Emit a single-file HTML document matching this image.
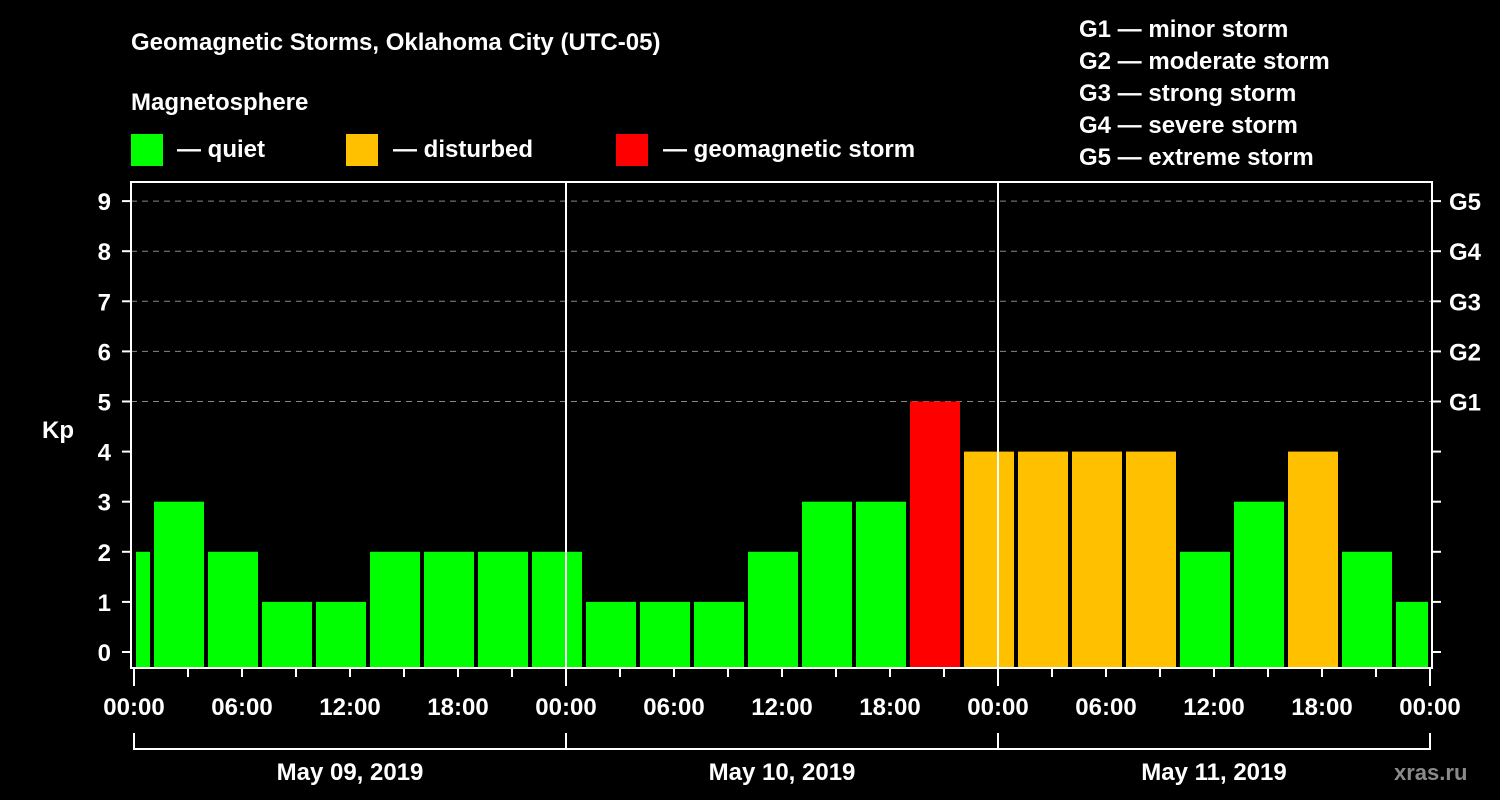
<!DOCTYPE html>
<html><head><meta charset="utf-8"><style>
html,body{margin:0;padding:0;background:#000;}
svg{display:block;}
text{font-family:"Liberation Sans",Arial,sans-serif;font-weight:bold;fill:#fff;}
</style></head><body>
<svg id="chart" width="1500" height="800" viewBox="0 0 1500 800" xmlns="http://www.w3.org/2000/svg">
<rect width="1500" height="800" fill="#000"/>
<text x="131" y="50" font-size="24">Geomagnetic Storms, Oklahoma City (UTC-05)</text>
<text x="131" y="110" font-size="24">Magnetosphere</text>
<g><rect x="131" y="134" width="32" height="32" fill="#00ff00"/><text x="177" y="157" font-size="24">— quiet</text></g>
<g><rect x="346" y="134" width="32" height="32" fill="#ffc000"/><text x="393" y="157" font-size="24">— disturbed</text></g>
<g><rect x="616" y="134" width="32" height="32" fill="#ff0000"/><text x="663" y="157" font-size="24">— geomagnetic storm</text></g>
<g font-size="24">
<text x="1079" y="37">G1 — minor storm</text>
<text x="1079" y="69">G2 — moderate storm</text>
<text x="1079" y="101">G3 — strong storm</text>
<text x="1079" y="133">G4 — severe storm</text>
<text x="1079" y="165">G5 — extreme storm</text>
</g>
<text x="42" y="438" font-size="24">Kp</text>
<g id="grid"></g><g id="bars"></g><g id="axes"></g>
<text x="1394" y="780" font-size="22" fill="#888" style="fill:#8a8a8a">xras.ru</text>
</svg>
<script>
const kpValues=[2,3,2,1,1,2,2,2,2,1,1,1,2,3,3,5,4,4,4,4,2,3,4,2,1];
const startHours=[-2,1,4,7,10,13,16,19,22,25,28,31,34,37,40,43,46,49,52,55,58,61,64,67,70];
const kpTicks=[0,1,2,3,4,5,6,7,8,9];
const gLabels=["G1","G2","G3","G4","G5"];
const timeLabels=["00:00","06:00","12:00","18:00","00:00","06:00","12:00","18:00","00:00","06:00","12:00","18:00","00:00"];
const dayLabels=["May 09, 2019","May 10, 2019","May 11, 2019"];
const NS="http://www.w3.org/2000/svg";
const x=h=>134+h*18, y=v=>652-v*50.1;
const L=131,R=1432,T=182,B=668;
function mk(p,tag,a){const e=document.createElementNS(NS,tag);for(const k in a)e.setAttribute(k,a[k]);p.appendChild(e);return e;}
const grid=document.getElementById('grid'),bars=document.getElementById('bars'),axes=document.getElementById('axes');
kpTicks.forEach(v=>{
 if(v>=5){const g=mk(grid,'line',{x1:L,x2:R,y1:y(v),y2:y(v),stroke:'#888','stroke-dasharray':'6,5','stroke-width':1});
 
 }
 const t=mk(axes,'line',{x1:L-9,x2:L,y1:y(v),y2:y(v),stroke:'#fff','stroke-width':2});
 
 
 const t2=mk(axes,'line',{x1:R,x2:R+9,y1:y(v),y2:y(v),stroke:'#fff','stroke-width':2});
 
 
 const l=mk(axes,'text',{x:111,y:y(v)+9,'font-size':24,'text-anchor':'end'});l.textContent=v;
 
 
});
gLabels.forEach((g,i)=>{const l=mk(axes,'text',{x:1449,y:y(5+i)+9,'font-size':24});l.textContent=g;
 
 });
kpValues.forEach((v,i)=>{
 const s=Math.max(0,startHours[i]),e=Math.min(72,startHours[i]+3);
 const c=v>=5?'#ff0000':(v>=4?'#ffc000':'#00ff00');
 const r=mk(bars,'rect',{x:x(s)+2,y:y(v),width:x(e)-x(s)-4,height:B-1-y(v),fill:c});
 
 
});
const fr=mk(axes,'rect',{x:L,y:T,width:R-L,height:B-T,fill:'none',stroke:'#fff','stroke-width':2});


[24,48].forEach(h=>{const d=mk(axes,'line',{x1:x(h),x2:x(h),y1:T,y2:B,stroke:'#fff','stroke-width':2});
 
 });
for(let h=0;h<=72;h+=3){const big=h%24===0;
 const t=mk(axes,'line',{x1:x(h),x2:x(h),y1:B,y2:B+(big?18:9),stroke:'#fff','stroke-width':2});
 
 }
timeLabels.forEach((s,i)=>{const l=mk(axes,'text',{x:x(i*6),y:715,'font-size':24,'text-anchor':'middle'});l.textContent=s;
 
 });
const br=mk(axes,'path',{d:`M${x(0)} 733V749H${x(72)}V733M${x(24)} 733V749M${x(48)} 733V749`,fill:'none',stroke:'#fff','stroke-width':2});


dayLabels.forEach((s,i)=>{const l=mk(axes,'text',{x:x(i*24+12),y:780,'font-size':24,'text-anchor':'middle'});l.textContent=s;
 
 });
</script>
</body></html>
